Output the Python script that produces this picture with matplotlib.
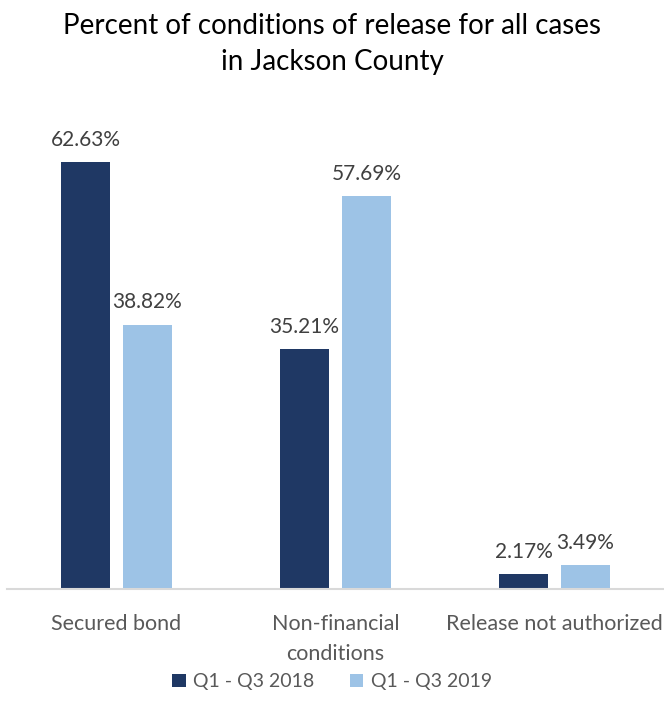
import numpy as np
import matplotlib.pyplot as plt

plt.rcParams['font.family'] = ['Lato', 'DejaVu Sans']

# Conditions of release, Jackson County
categories = ["Secured bond", "Non-financial\nconditions", "Release not authorized"]
series_names = ["Q1 - Q3 2018", "Q1 - Q3 2019"]
pct_2018 = [62.63, 35.21, 2.17]
pct_2019 = [38.82, 57.69, 3.49]

colors = ["#1F3864", "#9DC3E6"]

fig = plt.figure(figsize=(6.64, 7.17), dpi=100)
ax = fig.add_axes([0.0105, 0.1785, 0.9895, 0.665])

x = np.arange(len(categories))
width = 0.224
offset = 0.1416

for vals, dx, c, name in zip([pct_2018, pct_2019], [-offset, offset], colors, series_names):
    bars = ax.bar(x + dx, vals, width, color=c, label=name)
    for b, v in zip(bars, vals):
        ax.annotate(f"{v:.2f}%", (b.get_x() + b.get_width() / 2, v),
                    xytext=(0, 9), textcoords="offset points",
                    ha="center", va="bottom", fontsize=15, color="#404040")

ax.set_xlim(-0.5, 2.5)
ax.set_ylim(0, 70)
ax.set_xticks(x)
ax.set_xticklabels(categories, fontsize=15.5, color="#595959", linespacing=1.65)
ax.tick_params(axis="x", length=0, pad=18)
ax.set_yticks([])
for s in ["top", "right", "left"]:
    ax.spines[s].set_visible(False)
ax.spines["bottom"].set_color("#D9D9D9")
ax.spines["bottom"].set_linewidth(1.5)

fig.suptitle("Percent of conditions of release for all cases\nin Jackson County",
             y=0.982, fontsize=20, color="black", linespacing=1.5)

fig.legend(loc="lower center", bbox_to_anchor=(0.5, 0.013), ncol=2, frameon=False,
           fontsize=14, labelcolor="#595959", handlelength=0.7, handleheight=0.7,
           handletextpad=0.4, columnspacing=1.8)

fig.savefig("out.png", dpi=100)
